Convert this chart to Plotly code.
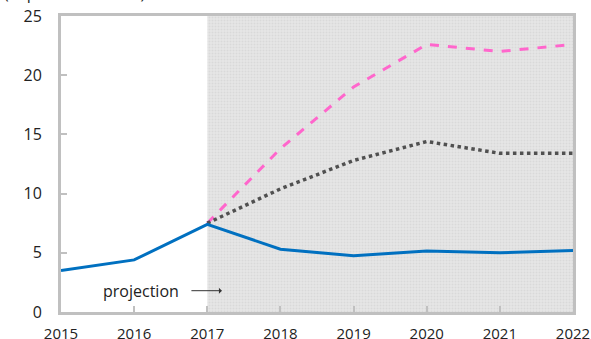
import plotly.graph_objects as go

years = [2015, 2016, 2017, 2018, 2019, 2020, 2021, 2022]
baseline = [3.5, 4.4, 7.4, 5.3, 4.75, 5.15, 5.0, 5.2]

proj_years = [2017, 2018, 2019, 2020, 2021, 2022]
high_case = [7.5, 13.8, 19.0, 22.6, 22.0, 22.6]
mid_case = [7.5, 10.4, 12.8, 14.4, 13.4, 13.4]

y_ticks = [0, 5, 10, 15, 20, 25]

fig = go.Figure()

# shaded projection period (dotted texture)
fig.add_trace(go.Scatter(
    x=[2017, 2022, 2022, 2017], y=[0, 0, 25, 25],
    mode="none", fill="toself", fillcolor="#e6e6e6",
    fillpattern=dict(shape=".", fgcolor="#cccccc", bgcolor="#e6e6e6", size=3, solidity=0.35),
    hoverinfo="skip",
))

fig.add_trace(go.Scatter(
    x=proj_years, y=high_case, mode="lines",
    line=dict(color="#ff66cc", width=3, dash="dash"),
))
fig.add_trace(go.Scatter(
    x=proj_years, y=mid_case, mode="lines",
    line=dict(color="#505050", width=3.5, dash="dot"),
))
fig.add_trace(go.Scatter(
    x=years, y=baseline, mode="lines",
    line=dict(color="#0070c0", width=3),
))

# "projection" label and arrow
fig.add_annotation(
    x=2016.1, y=1.8, text="projection", showarrow=False,
    font=dict(size=16, color="#222222"),
)
fig.add_annotation(
    x=2017.2, y=1.8, text="", showarrow=True,
    ax=-32, ay=0, arrowhead=1, arrowsize=1, arrowwidth=1,
    arrowcolor="#333333",
)

# clipped unit label at top
fig.add_annotation(
    xref="paper", yref="paper", x=-0.115, y=1.0, yshift=10,
    xanchor="left", yanchor="bottom",
    text="(in percent of GDP)", showarrow=False,
    font=dict(size=16, color="#222222"),
)

fig.update_xaxes(
    range=[2015, 2022], tickvals=years, automargin=False,
    showline=True, linecolor="#c0c0c0", linewidth=3, mirror=True,
    ticks="inside", ticklen=6, tickwidth=2, tickcolor="#c0c0c0",
    showgrid=False, zeroline=False, ticklabelstandoff=6,
    tickfont=dict(size=15, color="#222222"),
)
fig.update_yaxes(
    range=[0, 25], tickvals=y_ticks, automargin=False,
    showline=True, linecolor="#c0c0c0", linewidth=3, mirror=True,
    ticks="inside", ticklen=6, tickwidth=2, tickcolor="#c0c0c0",
    showgrid=False, zeroline=False, ticklabelstandoff=13,
    tickfont=dict(size=16, color="#222222"),
)

fig.update_layout(
    width=591, height=339,
    margin=dict(l=61, r=18, t=16, b=27),
    paper_bgcolor="white", plot_bgcolor="white",
    showlegend=False,
    font=dict(family="Open Sans, Noto Sans, sans-serif"),
)

# drop the default 8px body margin so the figure fills the window
fig.write_html(
    "out.html",
    config={"displayModeBar": False},
    post_script="document.body.style.margin='0';",
)
